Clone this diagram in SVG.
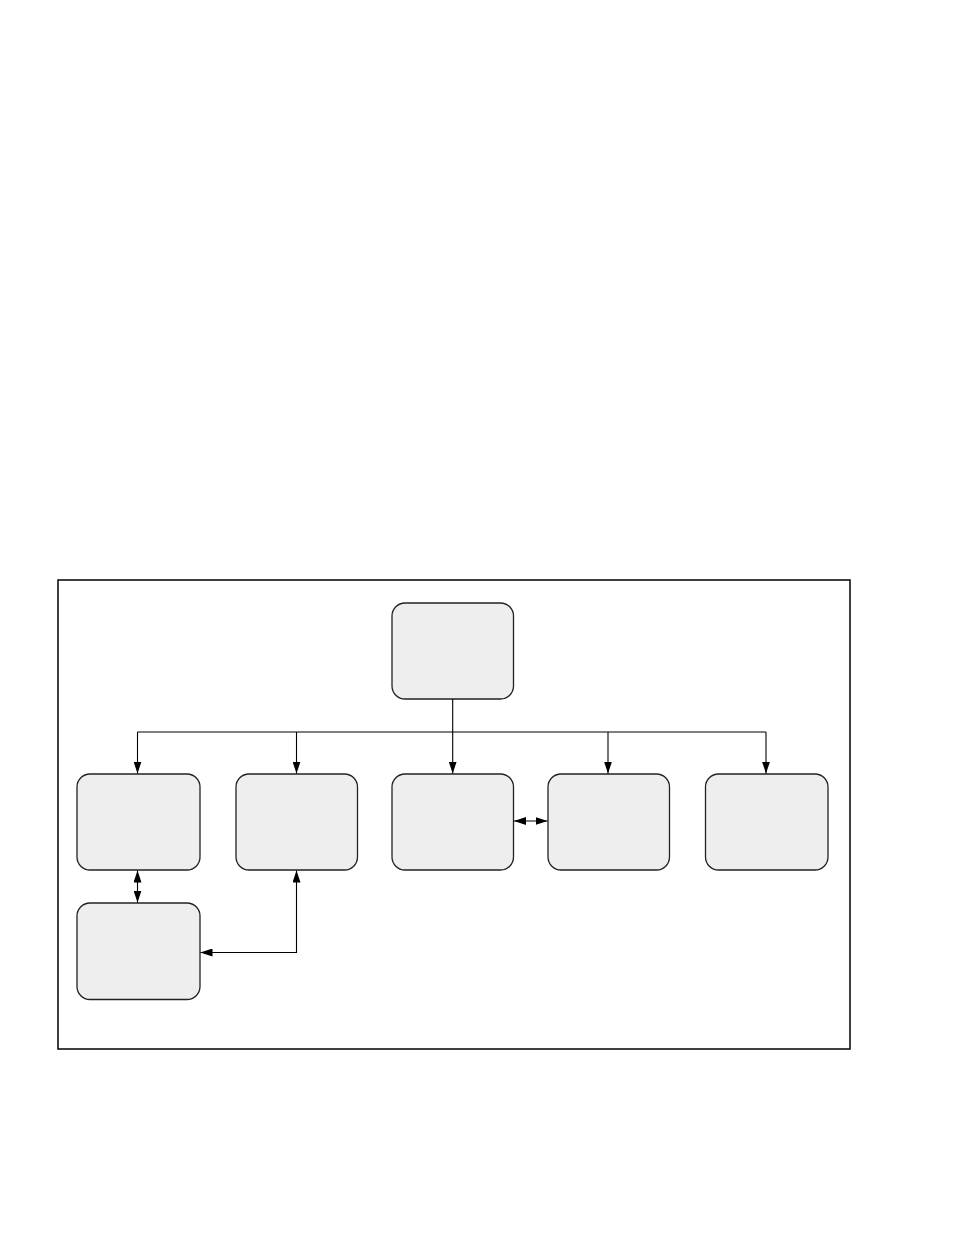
<svg xmlns="http://www.w3.org/2000/svg" width="954" height="1235" viewBox="0 0 954 1235">
<style>
.node{fill:#eeeeee;stroke:#222;stroke-width:1.3}
.conn{fill:none;stroke:#000;stroke-width:1.1}
.frame{fill:none;stroke:#111;stroke-width:1.6}
</style>
<defs>
<marker id="ah" viewBox="0 0 12 8" refX="12" refY="4" markerWidth="12" markerHeight="8" markerUnits="userSpaceOnUse" orient="auto-start-reverse">
<path d="M0,0 L12,4 L0,8 z" fill="#000"/>
</marker>
</defs>
<rect width="954" height="1235" fill="#fff"/>
<rect class="frame" x="58" y="580" width="792" height="469"/>
<g id="n-top"><rect class="node" x="392" y="603" width="121.5" height="96" rx="13"/></g>
<g id="n1"><rect class="node" x="77" y="774" width="123" height="96" rx="13"/></g>
<g id="n2"><rect class="node" x="236" y="774" width="121.5" height="96" rx="13"/></g>
<g id="n3"><rect class="node" x="392" y="774" width="121.5" height="96" rx="13"/></g>
<g id="n4"><rect class="node" x="548" y="774" width="121.5" height="96" rx="13"/></g>
<g id="n5"><rect class="node" x="705.5" y="774" width="122.5" height="96" rx="13"/></g>
<g id="n6"><rect class="node" x="77" y="903" width="123" height="96.5" rx="13"/></g>
<g id="connectors">
<path class="conn" d="M452.7,699 V732"/>
<path class="conn" d="M137.5,732 H766"/>
<path class="conn" d="M137.5,732 V773.5" marker-end="url(#ah)"/>
<path class="conn" d="M296.5,732 V773.5" marker-end="url(#ah)"/>
<path class="conn" d="M452.7,732 V773.5" marker-end="url(#ah)"/>
<path class="conn" d="M608,732 V773.5" marker-end="url(#ah)"/>
<path class="conn" d="M766,732 V773.5" marker-end="url(#ah)"/>
<path class="conn" d="M514,821 H547.5" marker-start="url(#ah)" marker-end="url(#ah)"/>
<path class="conn" d="M137.5,870.5 V902.5" marker-start="url(#ah)" marker-end="url(#ah)"/>
<path class="conn" d="M296.5,870.5 V952.5 H200.5" marker-start="url(#ah)" marker-end="url(#ah)"/>
</g>
</svg>
